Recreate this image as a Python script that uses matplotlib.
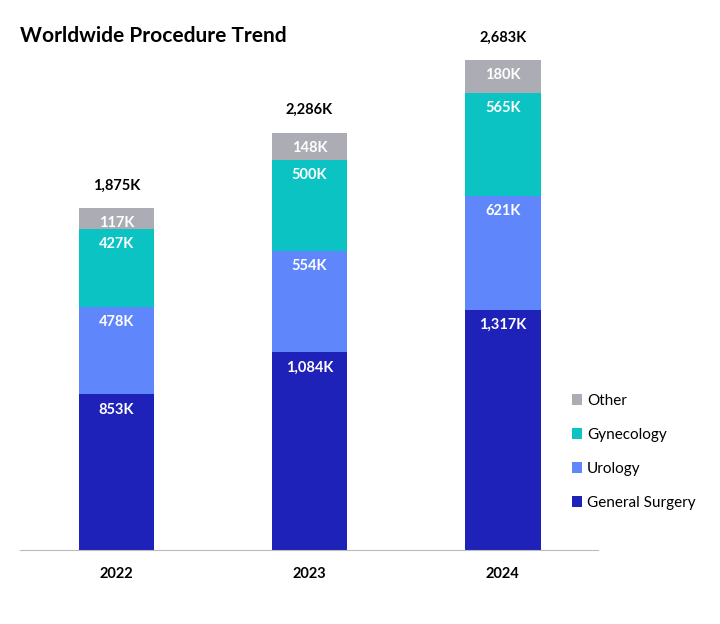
import numpy as np
import matplotlib.pyplot as plt

plt.rcParams['font.family'] = ['Lato', 'DejaVu Sans']

years = ['2022', '2023', '2024']
general_surgery = [853, 1084, 1317]
urology = [478, 554, 621]
gynecology = [427, 500, 565]
other = [117, 148, 180]
totals = [1875, 2286, 2683]

series = [
    ('General Surgery', general_surgery, '#1f22b8'),
    ('Urology', urology, '#5f87fb'),
    ('Gynecology', gynecology, '#0cc3c3'),
    ('Other', other, '#acacb4'),
]

fig = plt.figure(figsize=(7.2, 6.24), dpi=100)
ax = fig.add_axes([0.028, 0.1186, 0.802, 0.8334])

x = np.arange(len(years))
bottom = np.zeros(len(years))
handles = []
for name, vals, color in series:
    b = ax.bar(x, vals, 0.39, bottom=bottom, color=color, label=name)
    handles.append(b)
    for xi, v, bt in zip(x, vals, bottom):
        ax.annotate(f'{v:,}K', (xi, bt + v), xytext=(0, -6), textcoords='offset points',
                    ha='center', va='top', color='white', fontsize=10.5, fontweight='bold')
    bottom += np.array(vals)

for xi, t in zip(x, totals):
    ax.annotate(f'{t:,}K', (xi, t), xytext=(0, 11), textcoords='offset points',
                ha='center', va='bottom', color='black', fontsize=10.5, fontweight='bold')

ax.set_xlim(-0.497, 2.49)
ax.set_ylim(0, 2848)
ax.set_xticks(x)
ax.set_xticklabels(years, fontsize=10.5, fontweight='bold')
ax.tick_params(axis='x', length=0, pad=12)
ax.set_yticks([])
for s in ['top', 'right', 'left']:
    ax.spines[s].set_visible(False)
ax.spines['bottom'].set_color('#bbbbbb')

fig.text(0.028, 0.942, 'Worldwide Procedure Trend', fontsize=15, fontweight='bold', va='center')

leg = fig.legend(handles[::-1], [s[0] for s in series][::-1], loc='center left',
                 bbox_to_anchor=(0.775, 0.276), frameon=False, fontsize=11,
                 handlelength=0.7, handleheight=0.7, handletextpad=0.3, labelspacing=1.3)

fig.savefig('out.png', dpi=100)
